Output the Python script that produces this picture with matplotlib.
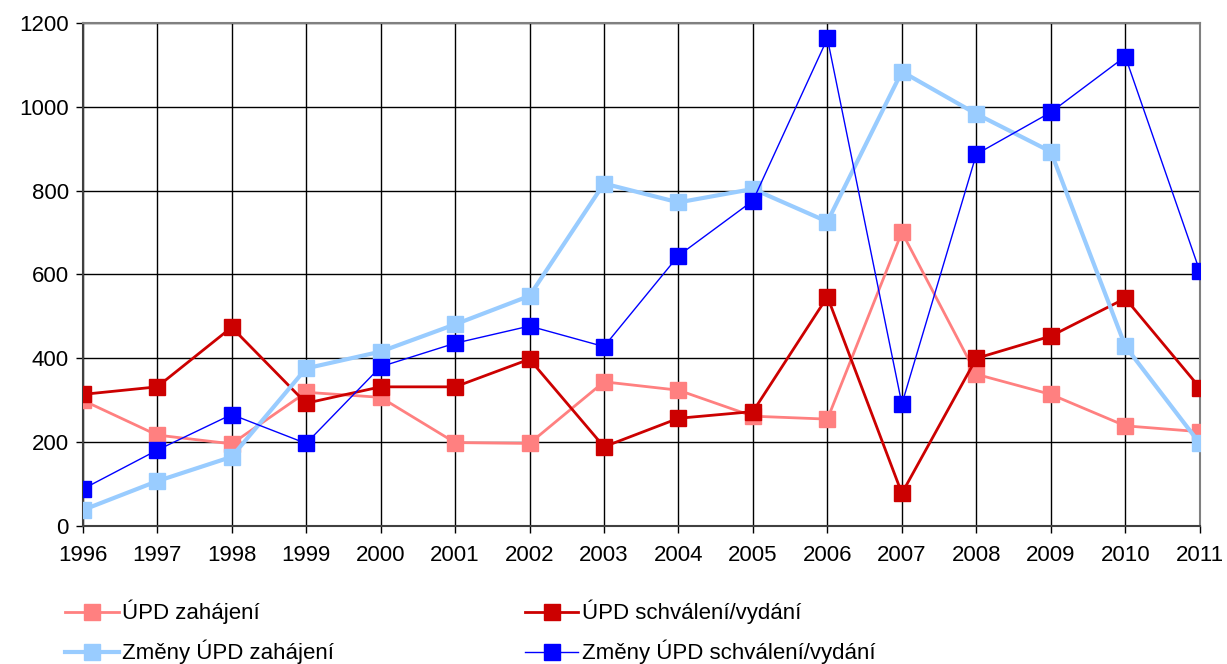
import numpy as np
import matplotlib
matplotlib.use("Agg")
import matplotlib.pyplot as plt

plt.rcParams['font.family'] = ['Liberation Sans', 'DejaVu Sans']

years = list(range(1996, 2012))

upd_zahajeni = [300, 217, 196, 319, 307, 199, 197, 344, 324, 262, 255, 701, 362, 314, 239, 225]
upd_schvaleni = [314, 332, 474, 293, 332, 332, 398, 189, 257, 273, 547, 78, 400, 453, 543, 330]
zmeny_zahajeni = [38, 107, 165, 376, 416, 481, 549, 817, 772, 804, 726, 1084, 983, 893, 429, 197]
zmeny_schvaleni = [88, 181, 266, 197, 380, 436, 477, 428, 645, 776, 1163, 291, 887, 987, 1120, 608]

labels = ['ÚPD zahájení', 'ÚPD schválení/vydání',
          'Změny ÚPD zahájení', 'Změny ÚPD schválení/vydání']


def draw_chart(fname):
    fig = plt.figure(figsize=(12.27, 6.64), dpi=100)
    ax = fig.add_axes([0.0674, 0.2078, 0.9104, 0.7576])

    ms = 11
    l1, = ax.plot(years, upd_zahajeni, color='#FF8080', lw=2, marker='s', ms=ms,
                  mec='#FF8080', zorder=3)
    l2, = ax.plot(years, upd_schvaleni, color='#CC0000', lw=2, marker='s', ms=ms,
                  mec='#CC0000', zorder=4)
    l3, = ax.plot(years, zmeny_zahajeni, color='#99CCFF', lw=3, marker='s', ms=ms,
                  mec='#99CCFF', zorder=5)
    l4, = ax.plot(years, zmeny_schvaleni, color='#0000FF', lw=1, marker='s', ms=ms,
                  mec='#0000FF', zorder=6)

    ax.set_xlim(1996, 2011)
    ax.set_ylim(0, 1200)
    ax.set_xticks(years)
    ax.set_yticks(range(0, 1201, 200))
    ax.grid(True, color='black', lw=1)
    ax.set_axisbelow(True)
    ax.tick_params(axis='both', labelsize=16, colors='black', length=5, width=1,
                   direction='out')
    ax.tick_params(axis='x', pad=9)
    ax.tick_params(axis='y', pad=5)
    for side in ['top', 'right']:
        ax.spines[side].set_color('#808080')
        ax.spines[side].set_linewidth(1.5)
    for side in ['left', 'bottom']:
        ax.spines[side].set_color('#404040')
        ax.spines[side].set_linewidth(1.5)

    fig.legend([l1, l3, l2, l4], [labels[0], labels[2], labels[1], labels[3]],
               ncol=2, loc='upper left', bbox_to_anchor=(0.046, 0.11),
               frameon=False, fontsize=16, handlelength=2.4, handletextpad=0.15,
               columnspacing=8.6, labelspacing=0.7, borderaxespad=0)

    fig.savefig(fname, dpi=100)


draw_chart('out.png')
